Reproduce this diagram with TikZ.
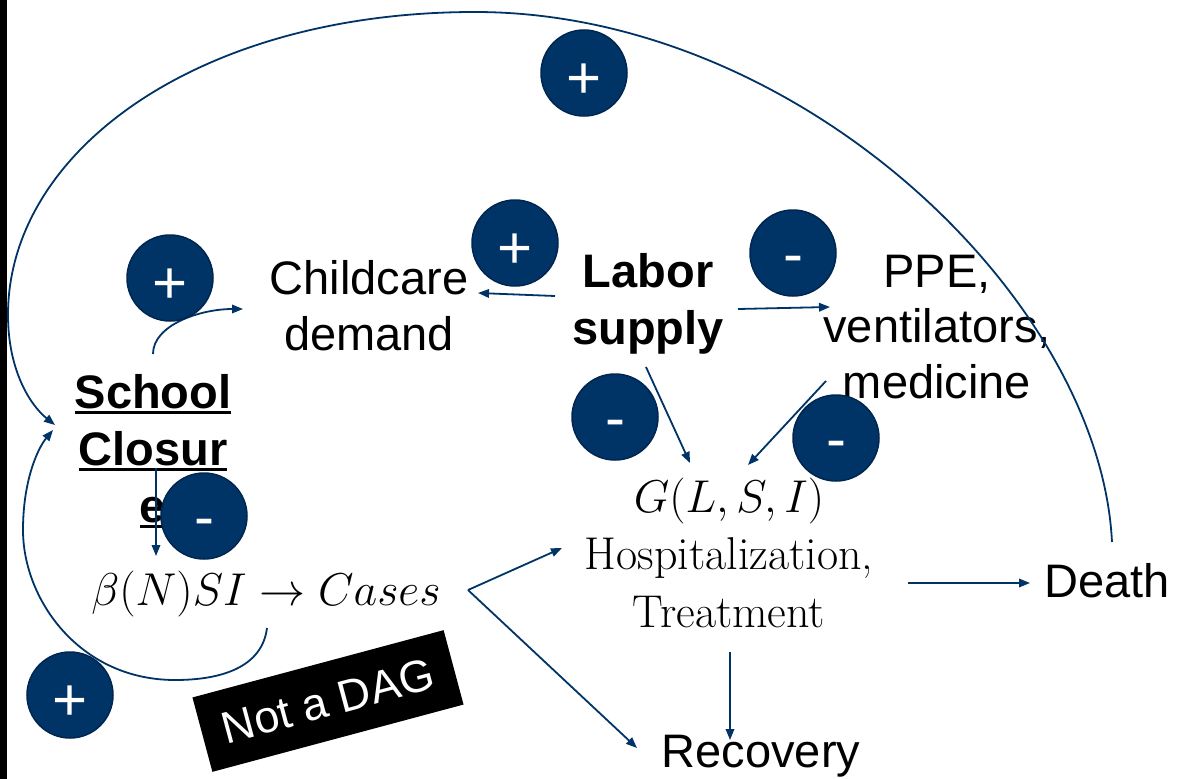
\RequirePackage{fix-cm}
\documentclass[tikz,border=0pt]{standalone}
\usepackage{fontspec}
\setsansfont{Liberation Sans}
\usetikzlibrary{arrows.meta}

\definecolor{navy}{RGB}{0,51,102}
\definecolor{navyedge}{RGB}{0,38,80}

% bold word with a thick rule under it
\newcommand\ulword[1]{\sbox0{#1}\rlap{\rule[-6pt]{\wd0}{3.5pt}}\usebox0}

\tikzset{
  lbl/.style={font=\sffamily\fontsize{47}{56}\selectfont, align=center, anchor=base, inner sep=0pt},
  lblbold/.style={lbl, font=\sffamily\bfseries\fontsize{47}{57}\selectfont},
  mathlbl/.style={font=\fontsize{46}{57.5}\selectfont, align=center, anchor=base, inner sep=0pt},
  sgn/.style={circle, fill=navy, draw=navyedge, line width=1.5pt, minimum size=86pt,
    inner sep=0pt, text=white, font=\sffamily\fontsize{60}{60}\selectfont},
  plus/.style={sgn, text height=50pt, text depth=0pt},
  minus/.style={sgn, text height=43pt, text depth=0pt},
  link/.style={draw=navy, line width=1.8pt, -{Triangle[length=11pt,width=8.5pt]}},
  dagbox/.style={fill=black, text=white, minimum width=260pt, minimum height=77pt,
    inner sep=0pt, font=\sffamily\fontsize{45}{45}\selectfont},
}

\begin{document}
\begin{tikzpicture}[x=1pt, y=-1pt]
\useasboundingbox (0,0) rectangle (1179,779);
\fill[black] (0,0) rectangle (7,779);

% variables (base = baseline of the last line)
\node[lblbold] (school) at (153,522) {\ulword{School}\\\ulword{Closur}\\\ulword{e}};
\node[lbl] (child) at (369,350) {Childcare\\demand};
\node[lblbold] (labor) at (648,344) {Labor\\supply};
\node[lbl, font=\sffamily\fontsize{47}{55.5}\selectfont] (ppe) at (937,398) {PPE,\\ventilators,\\medicine};
\node[mathlbl] (cases) at (266,605) {$\beta(N)SI\rightarrow Cases$};
\node[mathlbl] (hosp) at (729,627) {$G(L,S,I)$\\Hospitalization,\\Treatment};
\node[lbl] (death) at (1107,597) {Death};
\node[lbl] (recov) at (761,767) {Recovery};

% causal links
\draw[link] ([shift={(-93,-48)}]labor.base) -- ([shift={(109,-57)}]child.base);
\draw[link] ([shift={(90,-35)}]labor.base) -- ([shift={(-107,-91)}]ppe.base);
\draw[link] ([shift={(-2,23)}]labor.base) -- ([shift={(-39,-164)}]hosp.base);
\draw[link] ([shift={(-111,-17)}]ppe.base) -- ([shift={(19,-162)}]hosp.base);
\draw[link] ([shift={(0,-168)}]school.base) .. controls (153,325) and (200,309) .. ([shift={(-126,-41)}]child.base);
\draw[link] ([shift={(3,-54)}]school.base) -- ([shift={(-110,-49)}]cases.base);
\draw[link] ([shift={(202,-15)}]cases.base) -- ([shift={(-167,-79)}]hosp.base);
\draw[link] ([shift={(202,-15)}]cases.base) -- ([shift={(-124,-19)}]recov.base);
\draw[link] ([shift={(179,-44)}]hosp.base) -- ([shift={(-77,-14)}]death.base);
\draw[link] ([shift={(1,25)}]hosp.base) -- ([shift={(-31,-27)}]recov.base);

% feedback loops back into school closure
\draw[link] ([shift={(5,-55)}]death.base)
  .. controls (1100,300) and (800,12) .. (475,12)
  .. controls (200,12) and (8,150) .. (8,315)
  .. controls (8,370) and (30,405) .. ([shift={(-98,-97)}]school.base);
\draw[link] ([shift={(1,23)}]cases.base)
  .. controls (262,668) and (220,680) .. (175,680)
  .. controls (80,680) and (23,600) .. (23,530)
  .. controls (23,480) and (38,448) .. ([shift={(-100,-92)}]school.base);

% polarity markers
\node[plus]  (s1) at (584,73)  {+};
\node[plus]  (s2) at (170,278) {+};
\node[plus]  (s3) at (515,243) {+};
\node[minus] (s4) at (793,253) {-};
\node[minus] (s5) at (615,417) {-};
\node[minus] (s6) at (836,438) {-};
\node[minus] (s7) at (204,516) {-};
\node[plus]  (s8) at (70,695)  {+};

\node[dagbox, rotate=15] (dag) at (328,701) {Not a DAG};
\end{tikzpicture}
\end{document}
